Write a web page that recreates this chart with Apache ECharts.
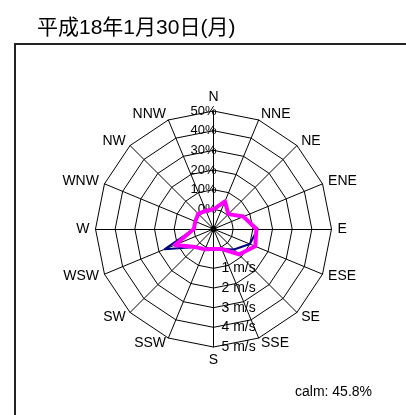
<!DOCTYPE html>
<html>
<head>
<meta charset="utf-8">
<script src="https://cdn.jsdelivr.net/npm/echarts@6/dist/echarts.min.js"></script>
<style>
  html, body { margin: 0; padding: 0; background: #fff; }
  #main { width: 406px; height: 415px; }
</style>
</head>
<body>
<div id="main"></div>
<script>
// 16方位
const directions = ['N', 'NNE', 'NE', 'ENE', 'E', 'ESE', 'SE', 'SSE', 'S', 'SSW', 'SW', 'WSW', 'W', 'WNW', 'NW', 'NNW'];
// 出現率 (%)  青線
const freqPct = [0, 5.2, 0.7, 6.0, 12.5, 10.0, 4.7, 1.0, 0.2, 1.2, 3.0, 16.8, 0, 0, 0.5, 0];
// 平均風速 (m/s)  ピンク線
const speedMs = [0, 0.52, 0.07, 0.65, 1.18, 1.3, 0.83, 0.1, 0.02, 0.12, 0.3, 1.12, 0, 0, 0.1, 0];
const calmPct = 45.8;
const titleText = '平成18年1月30日(月)';

const chart = echarts.init(document.getElementById('main'));

const cx = 213.5, cy = 229, rad = 118;
const font = 'Liberation Sans, Arial, Noto Sans CJK JP, sans-serif';

// echartsのレーダーは反時計回りなので並べ替える
const order = directions.map(function (d, i) { return (16 - i) % 16; });
const pick = function (arr) { return order.map(function (i) { return arr[i]; }); };

const pctIndicators = order.map(function (i) {
  const ind = { name: directions[i], min: -10, max: 50 };
  if (directions[i] === 'N') {
    ind.axisLabel = {
      show: true, margin: -3, color: '#000', fontSize: 13, fontFamily: font,
      formatter: function (v) { return v < 0 ? '' : v + '%'; }
    };
  }
  return ind;
});
const msIndicators = order.map(function (i) {
  const ind = { name: directions[i], min: -1, max: 5 };
  if (directions[i] === 'S') {
    ind.axisLabel = {
      show: true, margin: 8, color: '#000', fontSize: 14, fontFamily: font,
      formatter: function (v) { return v <= 0 ? '' : v + ' m/s'; }
    };
  }
  return ind;
});

const option = {
  animation: false,
  backgroundColor: '#fff',
  title: {
    text: titleText, left: 32, top: 13,
    textStyle: { fontSize: 21, fontWeight: 'normal', color: '#000', fontFamily: font }
  },
  radar: [
    {
      center: [cx, cy], radius: rad, startAngle: 90, shape: 'polygon', splitNumber: 6,
      indicator: pctIndicators,
      axisName: { color: '#000', fontSize: 14, fontFamily: font },
      nameGap: 6,
      axisLine: { lineStyle: { color: '#000', width: 1 } },
      splitLine: { lineStyle: { color: '#000', width: 1 } },
      splitArea: { show: false },
      axisTick: { show: false },
      axisLabel: { show: false }
    },
    {
      center: [cx, cy], radius: rad, startAngle: 90, shape: 'polygon', splitNumber: 6,
      indicator: msIndicators,
      axisName: { show: false },
      axisLine: { show: false },
      splitLine: { show: false },
      splitArea: { show: false },
      axisTick: { show: false },
      axisLabel: { show: false }
    }
  ],
  series: [
    {
      type: 'radar', radarIndex: 0, symbol: 'none', z: 3,
      lineStyle: { color: '#000080', width: 2 },
      data: [{ value: pick(freqPct), name: '出現率' }]
    },
    {
      type: 'radar', radarIndex: 1, symbol: 'none', z: 4,
      lineStyle: { color: '#FF00FF', width: 4 },
      data: [{ value: pick(speedMs), name: '平均風速' }]
    }
  ],
  graphic: [
    {
      type: 'rect', silent: true,
      shape: { x: 15, y: 44, width: 400, height: 380 },
      style: { fill: 'none', stroke: '#222', lineWidth: 2 }
    },
    {
      type: 'circle', silent: true, z: 10,
      shape: { cx: cx, cy: cy, r: 3 },
      style: { fill: '#000' }
    },
    {
      type: 'text', silent: true, x: 295, y: 392,
      style: { text: 'calm: ' + calmPct + '%', font: '14px ' + font, fill: '#000', verticalAlign: 'middle' }
    }
  ]
};

chart.setOption(option);
</script>
</body>
</html>
